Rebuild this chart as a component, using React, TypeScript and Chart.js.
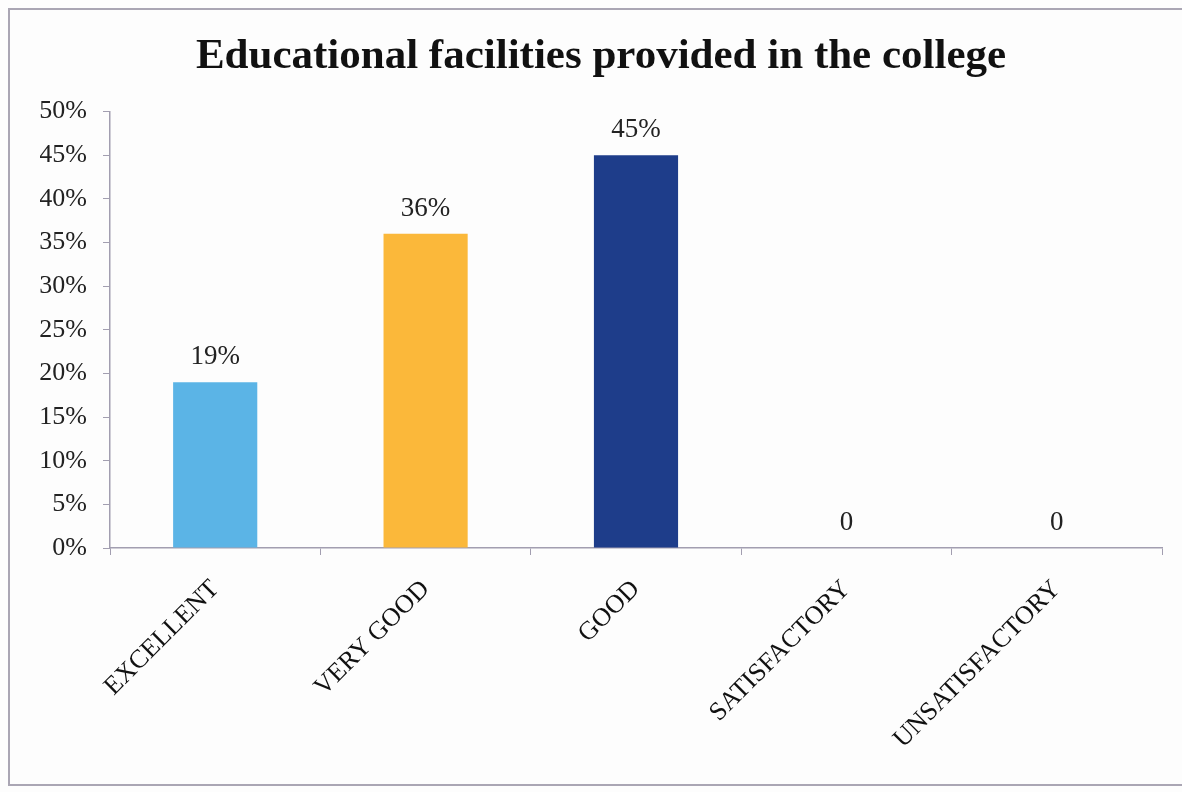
import React, { useEffect, useRef } from "react";
import { Chart, registerables } from "chart.js";

Chart.register(...registerables);

const categories = ["EXCELLENT", "VERY GOOD", "GOOD", "SATISFACTORY", "UNSATISFACTORY"];
const values = [19, 36, 45, 0, 0];
const barColors = ["#5BB4E6", "#FBB83A", "#1E3D8A"];
const yTicks = [0, 5, 10, 15, 20, 25, 30, 35, 40, 45, 50];
const titleText = "Educational facilities provided in the college";

const SERIF = "'Liberation Serif', 'Times New Roman', serif";

const dataLabelPlugin = {
  id: "dataLabels",
  afterDatasetsDraw(chart: any) {
    const ctx = chart.ctx;
    const meta = chart.getDatasetMeta(0);
    ctx.save();
    ctx.font = `27px ${SERIF}`;
    ctx.fillStyle = "#222";
    ctx.textAlign = "center";
    ctx.textBaseline = "alphabetic";
    meta.data.forEach((el: any, i: number) => {
      const v = values[i];
      const txt = v > 0 ? `${v}%` : "0";
      ctx.fillText(txt, el.x, el.y - 18);
    });
    ctx.restore();
  },
};

export default function App() {
  const ref = useRef<HTMLCanvasElement | null>(null);
  useEffect(() => {
    if (!ref.current) return;
    const chart = new Chart(ref.current, {
      type: "bar",
      data: {
        labels: categories,
        datasets: [
          {
            data: values,
            backgroundColor: categories.map((_, i) => barColors[i % barColors.length]),
            barPercentage: 0.4,
            categoryPercentage: 1,
          },
        ],
      },
      options: {
        animation: false,
        responsive: true,
        maintainAspectRatio: false,
        layout: { padding: { left: 40, right: 20, top: 0, bottom: 0 } },
        plugins: {
          legend: { display: false },
          tooltip: { enabled: false },
          title: {
            display: true,
            text: titleText,
            color: "#111",
            font: { family: SERIF, size: 43, weight: "bold" },
            padding: { top: 31, bottom: 29 },
          },
        },
        scales: {
          x: {
            grid: {
              display: true,
              drawOnChartArea: false,
              drawTicks: true,
              tickLength: 7,
              offset: true,
              color: "#a29eb0",
            },
            border: { display: true, color: "#a29eb0", width: 1.5 },
            ticks: {
              maxRotation: 45,
              minRotation: 45,
              autoSkip: false,
              padding: 19,
              color: "#111",
              font: { family: SERIF, size: 26 },
            },
            afterFit(scale: any) {
              scale.height = 244;
            },
          },
          y: {
            min: 0,
            max: 50,
            afterBuildTicks(scale: any) {
              scale.ticks = yTicks.map((v) => ({ value: v }));
            },
            grid: {
              display: true,
              drawOnChartArea: false,
              drawTicks: true,
              tickLength: 7,
              color: "#a29eb0",
            },
            border: { display: true, color: "#a29eb0", width: 1.5 },
            ticks: {
              padding: 16,
              color: "#222",
              font: { family: SERIF, size: 26 },
              callback: (v: any) => `${v}%`,
            },
            afterFit(scale: any) {
              scale.width = 70;
            },
          },
        },
      },
      plugins: [dataLabelPlugin],
    });
    return () => chart.destroy();
  }, []);

  return (
    <div
      style={{
        position: "fixed",
        left: 0,
        top: 0,
        width: 1182,
        height: 792,
        overflow: "hidden",
        background: "#fdfdfd",
      }}
    >
      <div
        style={{
          position: "absolute",
          left: 8,
          top: 8,
          width: 1200,
          height: 778,
          border: "2px solid #aaa6b4",
          boxSizing: "border-box",
        }}
      />
      <div style={{ position: "absolute", left: 0, top: 0, width: 1182, height: 792 }}>
        <canvas ref={ref} />
      </div>
    </div>
  );
}
